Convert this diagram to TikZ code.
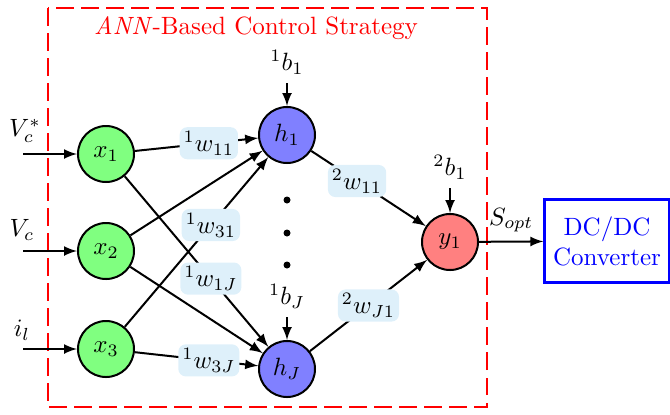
\documentclass[tikz,border=0pt]{standalone}
\usetikzlibrary{positioning, arrows}
\definecolor{wfill}{RGB}{222,240,250}
\tikzset{
    neuron/.style={circle, draw, thick, minimum size=22.4pt, inner sep=0pt}, % all units
    inunit/.style={neuron, fill=green!50},
    hidunit/.style={neuron, fill=blue!50},
    outunit/.style={neuron, fill=red!50},
    weight/.style={fill=wfill, rounded corners=3pt, inner sep=1.6pt},
    conn/.style={->, >=latex, thick},
    dotnode/.style={circle, fill=black, inner sep=0pt, minimum size=2.8pt},
}

\begin{document}
\begin{tikzpicture}[x=0.4pt, y=-0.4pt]
            \useasboundingbox (0,0) rectangle (670,414);

            % control strategy frame
            \draw[red, thick, dash pattern=on 7pt off 3pt] (48,8) rectangle (487,407);
            \node[text=red] (TITLE) at (256,28) {\textit{ANN}-Based Control Strategy};

            \node[inunit] (X1) at (106,154) {$x_1$};
            \node[inunit] (X2) at (106,251) {$x_2$};
            \node[inunit] (X3) at (106,349) {$x_3$};

            \node[hidunit] (H1) at (287,135) {$h_1$};
            \node[hidunit] (HJ) at (287,369) {$h_J$};

            \node[outunit] (Y1) at (450,242) {$y_1$};

            \node[draw=blue, line width=1.2pt, text=blue, align=center,
                  minimum width=49pt, minimum height=33pt] (DCDC) at (607,241) {DC/DC\\Converter};

            \node[dotnode] (DOTA) at (287,200) {};
            \node[dotnode] (DOTB) at (287,233) {};
            \node[dotnode] (DOTC) at (287,265) {};

            % inputs
            \coordinate (IN1) at (23,154);
            \coordinate (IN2) at (23,251);
            \coordinate (IN3) at (23,349);
            \node (VCREF) at (25,131) {$V_c^*$};
            \node (VC) at (22,230) {$V_c$};
            \node (IL) at (22,330) {$i_l$};

            % biases
            \coordinate (B1) at (287,83);
            \coordinate (BJ) at (287,317);
            \coordinate (B2) at (450,188);
            \node[above=0pt of B1] (B1LBL) {${}^1b_1$};
            \node[above=0pt of BJ] (BJLBL) {${}^1b_J$};
            \node[above=0pt of B2] (B2LBL) {${}^2b_1$};

            \path[conn]
            (IN1) edge (X1)
            (IN2) edge (X2)
            (IN3) edge (X3)
            (B1) edge (H1)
            (BJ) edge (HJ)
            (B2) edge (Y1)

            (X2) edge (H1)
            (X2) edge (HJ)
            (X1) edge node[weight, pos=0.6]{${}^1w_{11}$} (H1)
            (X3) edge node[weight, pos=0.6]{${}^1w_{31}$} (H1)
            (X1) edge node[weight, pos=0.6]{${}^1w_{1J}$} (HJ)
            (X3) edge node[weight, pos=0.6]{${}^1w_{3J}$} (HJ)

            (H1) edge node[weight, pos=0.4]{${}^2w_{11}$} (Y1)
            (HJ) edge node[weight, pos=0.5]{${}^2w_{J1}$} (Y1)

            (Y1) edge node[above]{$S_{opt}$} (DCDC);

        \end{tikzpicture}
\end{document}
